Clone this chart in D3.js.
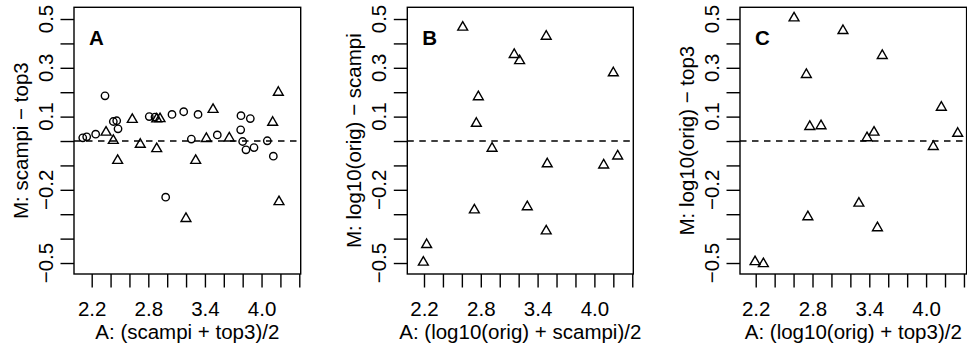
<!DOCTYPE html>
<html>
<head>
<meta charset="utf-8">
<script src="https://cdn.jsdelivr.net/npm/d3@7"></script>
<style>
  html, body { margin: 0; padding: 0; background: #fff; }
  svg { display: block; }
  text { font-family: "Liberation Sans", Arial, Helvetica, sans-serif; fill: #000; }
</style>
</head>
<body>
<svg id="chart" width="967" height="348"></svg>
<script>
// ---- data -------------------------------------------------------------
const panelLetters = ["A", "B", "C"];
const xTitles = ["A: (scampi + top3)/2", "A: (log10(orig) + scampi)/2", "A: (log10(orig) + top3)/2"];
const yTitles = ["M: scampi \u2212 top3", "M: log10(orig) \u2212 scampi", "M: log10(orig) \u2212 top3"];

const xTicks = [2.2, 2.4, 2.6, 2.8, 3.0, 3.2, 3.4, 3.6, 3.8, 4.0, 4.2, 4.4];
const xTickLabels = [2.2, 2.8, 3.4, 4.0];
const yTicks = [-0.5, -0.4, -0.3, -0.2, -0.1, 0, 0.1, 0.2, 0.3, 0.4, 0.5];
const yTickLabels = [0.5, 0.3, 0.1, -0.2, -0.5];

// panel A: circles
const aCircleX = [2.105, 2.147, 2.242, 2.341, 2.429, 2.465, 2.479, 2.810, 2.871, 3.051, 3.175, 3.327,
                  3.256, 3.531, 3.782, 3.881, 3.779, 3.800, 3.835, 3.920, 4.061, 4.125, 2.984];
const aCircleY = [0.013, 0.017, 0.028, 0.185, 0.080, 0.083, 0.050, 0.100, 0.098, 0.109, 0.120, 0.109,
                  0.008, 0.025, 0.104, 0.092, 0.046, -0.002, -0.036, -0.027, 0.001, -0.062, -0.230];
// panel A: triangles
const aTriX = [2.352, 2.429, 2.475, 2.630, 2.715, 2.889, 2.924, 2.889, 3.486, 3.302, 3.415, 3.658,
               3.199, 4.118, 4.178, 4.185];
const aTriY = [0.036, 0.002, -0.080, 0.088, -0.014, 0.090, 0.091, -0.032, 0.129, -0.080, 0.010, 0.012,
               -0.318, 0.076, 0.199, -0.249];
// panel B: triangles
const bTriX = [2.609, 3.491, 3.153, 3.210, 4.200, 2.774, 2.753, 2.919, 3.502, 4.098, 4.246, 3.291,
               2.732, 3.491, 2.228, 2.193];
const bTriY = [0.466, 0.429, 0.354, 0.329, 0.279, 0.181, 0.072, -0.030, -0.094, -0.099, -0.062, -0.270,
               -0.283, -0.369, -0.425, -0.497];
// panel C: triangles
const cTriX = [2.605, 3.122, 3.537, 2.735, 4.161, 2.771, 2.890, 3.450, 3.376, 4.334, 4.076, 3.290,
               2.751, 3.486, 2.193, 2.281];
const cTriY = [0.504, 0.452, 0.350, 0.272, 0.138, 0.059, 0.062, 0.036, 0.013, 0.031, -0.023, -0.255,
               -0.311, -0.356, -0.495, -0.503];

// ---- layout -----------------------------------------------------------
const boxTop = 7.3, boxBottom = 274;
const yDomain = [-0.545, 0.548];
const panels = [
  { left: 74.0,  right: 300.7, xDomain: [2.0124, 4.415], circles: [aCircleX, aCircleY], triangles: [aTriX, aTriY] },
  { left: 407.3, right: 633.3, xDomain: [2.0236, 4.411], circles: null,                 triangles: [bTriX, bTriY] },
  { left: 740.0, right: 966.6, xDomain: [2.034,  4.428], circles: null,                 triangles: [cTriX, cTriY] }
];
const fontSize = 20.5;
const tickLen = 13.5;
const lw = 1.4;

const svg = d3.select("#chart");
svg.append("rect").attr("width", 967).attr("height", 348).attr("fill", "#fff");

// triangle (R pch = 2) centred on its centroid
function trianglePath(cx, cy, r) {
  const xc = r * Math.sqrt(3) / 2;
  return `M${cx},${cy - r}L${cx + xc},${cy + r / 2}L${cx - xc},${cy + r / 2}Z`;
}

panels.forEach((p, i) => {
  const x = d3.scaleLinear().domain(p.xDomain).range([p.left, p.right]);
  const y = d3.scaleLinear().domain(yDomain).range([boxBottom, boxTop]);
  const g = svg.append("g");

  // zero reference line
  g.append("line")
    .attr("x1", p.left).attr("x2", p.right)
    .attr("y1", y(0)).attr("y2", y(0))
    .attr("stroke", "#000").attr("stroke-width", lw)
    .attr("stroke-dasharray", "6.5,5.5");

  // bottom axis: ticks from the scale, labels only on a subset
  const xAxis = d3.axisBottom(x)
    .tickValues(xTicks)
    .tickSize(tickLen)
    .tickFormat(d => xTickLabels.some(v => Math.abs(v - d) < 1e-9) ? d3.format(".1f")(d) : "");
  const xa = g.append("g").attr("transform", `translate(0,${boxBottom})`).call(xAxis);
  xa.select(".domain").remove();
  xa.selectAll(".tick line").attr("stroke", "#000").attr("stroke-width", lw);
  xa.selectAll(".tick text")
    .attr("font-size", fontSize)
    .attr("font-family", "Liberation Sans, Arial, sans-serif")
    .attr("y", 0).attr("dy", 0)
    .attr("transform", `translate(0,${316 - boxBottom})`)
    .attr("fill", "#000");

  // left axis: ticks from the scale, rotated labels
  const yAxis = d3.axisLeft(y)
    .tickValues(yTicks)
    .tickSize(tickLen)
    .tickFormat("");
  const ya = g.append("g").attr("transform", `translate(${p.left},0)`).call(yAxis);
  ya.select(".domain").remove();
  ya.selectAll(".tick line").attr("stroke", "#000").attr("stroke-width", lw);

  g.selectAll("text.ytl")
    .data(yTickLabels)
    .join("text")
    .attr("class", "ytl")
    .attr("font-size", fontSize)
    .attr("text-anchor", "middle")
    .attr("transform", d => `translate(${p.left - 21},${y(d)}) rotate(-90)`)
    .text(d => d3.format(".1f")(d).replace("-", "\u2212"));

  // axis titles
  g.append("text")
    .attr("font-size", fontSize)
    .attr("text-anchor", "middle")
    .attr("x", (p.left + p.right) / 2)
    .attr("y", 338.5)
    .text(xTitles[i]);
  g.append("text")
    .attr("font-size", fontSize)
    .attr("text-anchor", "middle")
    .attr("transform", `translate(${p.left - 46.5},${(boxTop + boxBottom) / 2}) rotate(-90)`)
    .text(yTitles[i]);

  // plot box
  g.append("rect")
    .attr("x", p.left).attr("y", boxTop)
    .attr("width", p.right - p.left).attr("height", boxBottom - boxTop)
    .attr("fill", "none").attr("stroke", "#000").attr("stroke-width", lw);

  // panel letter
  g.append("text")
    .attr("font-size", fontSize)
    .attr("font-weight", "bold")
    .attr("x", p.left + 15)
    .attr("y", 45)
    .text(panelLetters[i]);

  // points
  if (p.circles) {
    const [cx, cy] = p.circles;
    g.selectAll("circle.pt")
      .data(d3.range(cx.length))
      .join("circle")
      .attr("class", "pt")
      .attr("cx", k => x(cx[k]))
      .attr("cy", k => y(cy[k]))
      .attr("r", 3.7)
      .attr("fill", "none").attr("stroke", "#000").attr("stroke-width", lw);
  }
  if (p.triangles) {
    const [tx, ty] = p.triangles;
    g.selectAll("path.pt")
      .data(d3.range(tx.length))
      .join("path")
      .attr("class", "pt")
      .attr("d", k => trianglePath(x(tx[k]), y(ty[k]), 5.7))
      .attr("fill", "none").attr("stroke", "#000").attr("stroke-width", lw)
      .attr("stroke-linejoin", "miter");
  }
});
</script>
</body>
</html>
